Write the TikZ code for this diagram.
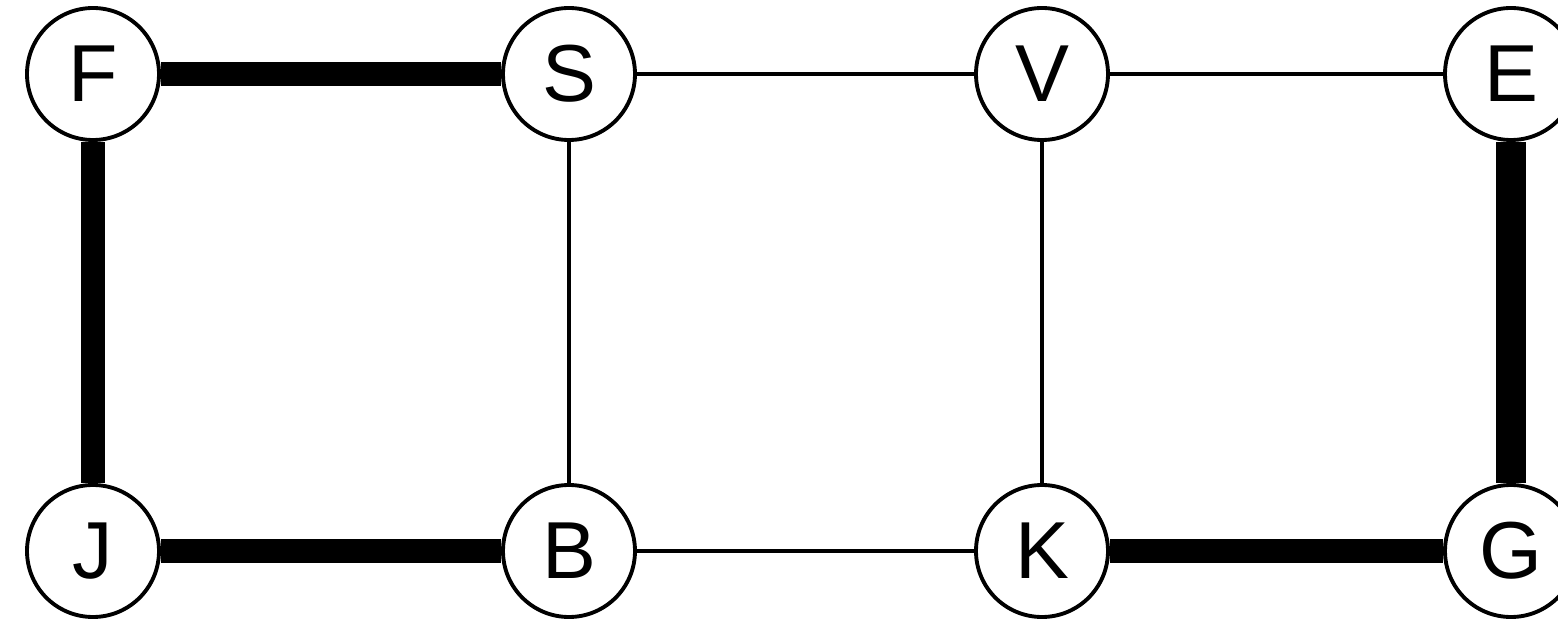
\documentclass[tikz,border=0pt]{standalone}
\usepackage{fontspec}
\setmainfont{Liberation Sans}
\usepackage{tikz}
\usetikzlibrary{positioning}

\begin{document}
\begin{tikzpicture}[font=\fontsize{23}{27}\selectfont,
  vert/.style={draw,circle,line width=1.1pt,minimum size=1.32cm,inner sep=0pt,fill=white},
  light/.style={line width=1.3pt},
  heavy/.style={line width=0.24cm}]
\useasboundingbox (0,0) rectangle (15.58,6.26);
\node[vert] (f) at (0.93,5.52) {F};
\node[vert] (s) at (5.69,5.52) {S};
\node[vert] (v) at (10.42,5.52) {V};
\node[vert] (e) at (15.11,5.52) {E};
\node[vert] (j) at (0.93,0.75) {J};
\node[vert] (b) at (5.69,0.75) {B};
\node[vert] (k) at (10.42,0.75) {K};
\node[vert] (g) at (15.11,0.75) {G};
\draw[heavy] (f)--(s);
\draw[heavy] (f)--(j);
\draw[heavy] (j)--(b);
\draw[heavy] (k)--(g);
\draw[heavy,line width=0.3cm] (e)--(g);
\draw[light] (s)--(v);
\draw[light] (v)--(e);
\draw[light] (s)--(b);
\draw[light] (v)--(k);
\draw[light] (b)--(k);
\end{tikzpicture}
\end{document}
